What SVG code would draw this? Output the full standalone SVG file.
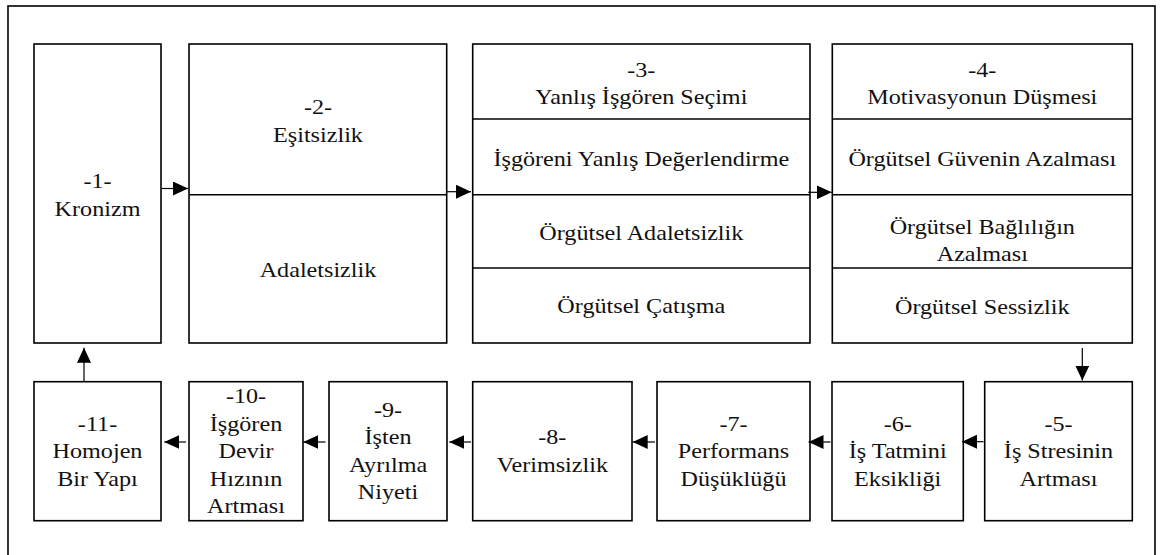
<svg xmlns="http://www.w3.org/2000/svg" width="1172" height="555" viewBox="0 0 1172 555">
<style>
.frame{fill:none;stroke:#000;stroke-width:1.6}
.box{fill:#fff;stroke:#000;stroke-width:1.6}
.div{stroke:#000;stroke-width:1.6}
text{font-family:'Liberation Serif','Times New Roman',serif;font-size:20.3px;fill:#111;text-anchor:middle}
.c{stroke:#000;stroke-width:1.2;fill:none;marker-end:url(#ah)}
</style>
<defs>
<marker id="ah" markerUnits="userSpaceOnUse" markerWidth="16" markerHeight="14" refX="15" refY="7" orient="auto">
<path d="M0,0 L15,7 L0,14 z" fill="#000"/>
</marker>
</defs>
<rect width="1172" height="555" fill="#fff"/>
<rect class="frame" x="8" y="6" width="1147" height="570"/>
<g id="n1">
<rect class="box" x="34" y="44" width="127" height="299"/>
<text transform="translate(97.5,0) scale(1.19,1)"><tspan x="0" y="188.3">-1-</tspan><tspan x="0" y="216">Kronizm</tspan></text>
</g>
<g id="n2">
<rect class="box" x="189" y="44" width="257.7" height="299"/>
<line class="div" x1="189" y1="194.7" x2="446.7" y2="194.7"/>
<text transform="translate(318,0) scale(1.19,1)"><tspan x="0" y="114">-2-</tspan><tspan x="0" y="141.7">Eşitsizlik</tspan><tspan x="0" y="276.7">Adaletsizlik</tspan></text>
</g>
<g id="n3">
<rect class="box" x="472.7" y="44" width="337.3" height="299"/>
<line class="div" x1="472.7" y1="119" x2="810" y2="119"/>
<line class="div" x1="472.7" y1="194.7" x2="810" y2="194.7"/>
<line class="div" x1="472.7" y1="268" x2="810" y2="268"/>
<text transform="translate(641.3,0) scale(1.19,1)"><tspan x="0" y="76.7">-3-</tspan><tspan x="0" y="104">Yanlış İşgören Seçimi</tspan><tspan x="0" y="166">İşgöreni Yanlış Değerlendirme</tspan><tspan x="0" y="240">Örgütsel Adaletsizlik</tspan><tspan x="0" y="313.3">Örgütsel Çatışma</tspan></text>
</g>
<g id="n4">
<rect class="box" x="832.3" y="44" width="300" height="299"/>
<line class="div" x1="832.3" y1="119" x2="1132.3" y2="119"/>
<line class="div" x1="832.3" y1="194.7" x2="1132.3" y2="194.7"/>
<line class="div" x1="832.3" y1="268" x2="1132.3" y2="268"/>
<text transform="translate(982.3,0) scale(1.19,1)"><tspan x="0" y="76.7">-4-</tspan><tspan x="0" y="104">Motivasyonun Düşmesi</tspan><tspan x="0" y="166">Örgütsel Güvenin Azalması</tspan><tspan x="0" y="234">Örgütsel Bağlılığın</tspan><tspan x="0" y="260.7">Azalması</tspan><tspan x="0" y="314">Örgütsel Sessizlik</tspan></text>
</g>
<g id="n5">
<rect class="box" x="984.7" y="381.7" width="147.6" height="139"/>
<text transform="translate(1058.5,0) scale(1.19,1)"><tspan x="0" y="430.7">-5-</tspan><tspan x="0" y="458.2">İş Stresinin</tspan><tspan x="0" y="485.7">Artması</tspan></text>
</g>
<g id="n6">
<rect class="box" x="832" y="381.7" width="131.3" height="139"/>
<text transform="translate(897.7,0) scale(1.19,1)"><tspan x="0" y="430.7">-6-</tspan><tspan x="0" y="458.2">İş Tatmini</tspan><tspan x="0" y="485.7">Eksikliği</tspan></text>
</g>
<g id="n7">
<rect class="box" x="657" y="381.7" width="153" height="139"/>
<text transform="translate(733.5,0) scale(1.19,1)"><tspan x="0" y="430.7">-7-</tspan><tspan x="0" y="458.2">Performans</tspan><tspan x="0" y="485.7">Düşüklüğü</tspan></text>
</g>
<g id="n8">
<rect class="box" x="472.7" y="381.7" width="159.3" height="139"/>
<text transform="translate(552.3,0) scale(1.19,1)"><tspan x="0" y="444.5">-8-</tspan><tspan x="0" y="472">Verimsizlik</tspan></text>
</g>
<g id="n9">
<rect class="box" x="329" y="381.7" width="118" height="139"/>
<text transform="translate(388,0) scale(1.19,1)"><tspan x="0" y="417">-9-</tspan><tspan x="0" y="444.5">İşten</tspan><tspan x="0" y="472">Ayrılma</tspan><tspan x="0" y="499.5">Niyeti</tspan></text>
</g>
<g id="n10">
<rect class="box" x="189" y="381.7" width="114" height="139"/>
<text transform="translate(246,0) scale(1.19,1)"><tspan x="0" y="403.2">-10-</tspan><tspan x="0" y="430.7">İşgören</tspan><tspan x="0" y="458.2">Devir</tspan><tspan x="0" y="485.7">Hızının</tspan><tspan x="0" y="513.2">Artması</tspan></text>
</g>
<g id="n11">
<rect class="box" x="34" y="381.7" width="127" height="139"/>
<text transform="translate(97.5,0) scale(1.19,1)"><tspan x="0" y="430.7">-11-</tspan><tspan x="0" y="458.2">Homojen</tspan><tspan x="0" y="485.7">Bir Yapı</tspan></text>
</g>
<g id="connectors">
<line class="c" x1="162" y1="188.5" x2="188" y2="188.5"/>
<line class="c" x1="446" y1="191.7" x2="471" y2="191.7"/>
<line class="c" x1="808.3" y1="192.3" x2="831.7" y2="192.3"/>
<line class="c" x1="1082.3" y1="348" x2="1082.3" y2="380.5"/>
<line class="c" x1="983.5" y1="441.7" x2="962" y2="441.7"/>
<line class="c" x1="830.5" y1="442" x2="808.5" y2="442"/>
<line class="c" x1="655" y1="442" x2="632.7" y2="442"/>
<line class="c" x1="471" y1="442" x2="449.3" y2="442"/>
<line class="c" x1="325.5" y1="442" x2="303.3" y2="442"/>
<line class="c" x1="186" y1="442" x2="164.3" y2="442"/>
<line class="c" x1="84" y1="381" x2="84" y2="347.7"/>
</g>
</svg>
